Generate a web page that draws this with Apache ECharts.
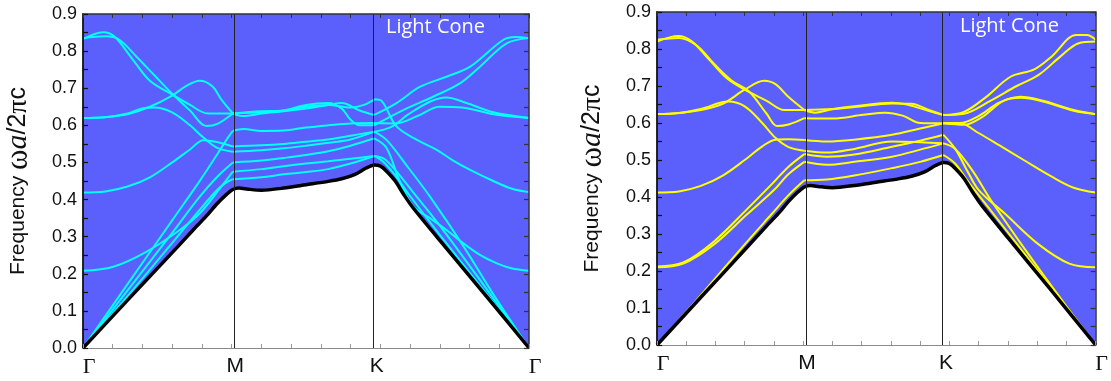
<!DOCTYPE html>
<html>
<head>
<meta charset="utf-8">
<script src="https://cdn.jsdelivr.net/npm/echarts@6/dist/echarts.min.js"></script>
<style>
  html, body { margin: 0; padding: 0; background: #fff; }
  #chart { width: 1111px; height: 381px; }
</style>
</head>
<body>
<div id="chart"></div>
<script>
// Symmetry points along the path Γ → M → K → Γ (normalised path length)
const M_POS = 0.336;
const K_POS = 0.653;
const pathLabels = ['Γ', 'M', 'K', 'Γ'];
const pathPositions = [0, M_POS, K_POS, 1];
const yTickLabels = ['0.0', '0.1', '0.2', '0.3', '0.4', '0.5', '0.6', '0.7', '0.8', '0.9'];

// Light line (edge of the light cone), shared by both panels
const lightLine = [
  [0, 0], [0.10, 0.129], [0.20, 0.257], [0.25, 0.322],
  [0.28, 0.360], [0.30, 0.388], [0.32, 0.412], [0.336, 0.427], [0.35, 0.431],
  [0.37, 0.428], [0.40, 0.425], [0.45, 0.431], [0.50, 0.440],
  [0.55, 0.449], [0.58, 0.456], [0.61, 0.468], [0.635, 0.485], [0.653, 0.493],
  [0.667, 0.490], [0.68, 0.477], [0.70, 0.450], [0.72, 0.412], [0.74, 0.378],
  [0.80, 0.290], [0.90, 0.146], [1, 0]
];

// Left panel bands, Γ → M
const leftBandsGM = [
  [[0,0],[0.1,0.14],[0.2,0.283],[0.26,0.37],[0.3,0.425],[0.32,0.445],[0.336,0.455]],
  [[0,0],[0.1,0.155],[0.2,0.31],[0.26,0.405],[0.3,0.46],[0.336,0.5]],
  [[0,0.208],[0.068,0.219],[0.143,0.26],[0.217,0.318],[0.262,0.363],[0.307,0.43],[0.336,0.475]],
  [[0,0],[0.1,0.172],[0.2,0.344],[0.26,0.447],[0.3,0.52],[0.325,0.567],[0.336,0.585]],
  [[0,0.419],[0.05,0.422],[0.1,0.435],[0.15,0.46],[0.2,0.5],[0.24,0.535],[0.27,0.56],[0.3,0.555],[0.336,0.543]],
  [[0,0.62],[0.05,0.622],[0.1,0.632],[0.13,0.645],[0.16,0.648],[0.2,0.635],[0.24,0.6],[0.27,0.567],[0.3,0.54],[0.336,0.529]],
  [[0,0.62],[0.05,0.622],[0.1,0.63],[0.15,0.65],[0.2,0.68],[0.23,0.705],[0.262,0.72],[0.29,0.705],[0.31,0.67],[0.336,0.632]],
  [[0,0.832],[0.045,0.851],[0.07,0.84],[0.11,0.78],[0.15,0.72],[0.2,0.683],[0.24,0.655],[0.28,0.632],[0.336,0.632]],
  [[0,0.835],[0.05,0.84],[0.08,0.832],[0.12,0.785],[0.16,0.735],[0.2,0.685],[0.24,0.64],[0.277,0.598],[0.3,0.603],[0.336,0.632]]
];
// Left panel bands, M → K
const leftBandsMK = [
  [[0.336,0.455],[0.4,0.46],[0.45,0.468],[0.5,0.474],[0.55,0.482],[0.6,0.497],[0.653,0.5175]],
  [[0.336,0.475],[0.4,0.482],[0.45,0.49],[0.5,0.497],[0.55,0.503],[0.6,0.51],[0.653,0.5175]],
  [[0.336,0.5],[0.4,0.505],[0.45,0.512],[0.5,0.52],[0.55,0.53],[0.6,0.545],[0.653,0.565]],
  [[0.336,0.529],[0.4,0.533],[0.45,0.538],[0.5,0.545],[0.55,0.553],[0.6,0.562],[0.653,0.583]],
  [[0.336,0.543],[0.4,0.546],[0.45,0.55],[0.5,0.556],[0.55,0.562],[0.6,0.572],[0.653,0.583]],
  [[0.336,0.585],[0.36,0.59],[0.4,0.585],[0.45,0.586],[0.5,0.594],[0.55,0.6],[0.6,0.605],[0.653,0.606]],
  [[0.336,0.632],[0.36,0.625],[0.4,0.632],[0.45,0.638],[0.5,0.645],[0.55,0.655],[0.58,0.66],[0.62,0.64],[0.653,0.628]],
  [[0.336,0.632],[0.4,0.638],[0.45,0.64],[0.5,0.65],[0.55,0.655],[0.6,0.648],[0.63,0.655],[0.653,0.67]],
  [[0.336,0.632],[0.4,0.635],[0.45,0.64],[0.5,0.655],[0.55,0.66],[0.58,0.645],[0.6,0.615],[0.62,0.6],[0.653,0.6]]
];
// Left panel bands, K → Γ
const leftBandsKG = [
  [[0.653,0.5175],[0.675,0.5],[0.7,0.465],[0.73,0.415],[0.8,0.305],[0.9,0.153],[1,0]],
  [[0.653,0.5175],[0.675,0.51],[0.7,0.48],[0.74,0.42],[0.8,0.33],[0.9,0.167],[1,0]],
  [[0.653,0.565],[0.68,0.54],[0.71,0.45],[0.741,0.381],[0.778,0.35],[0.815,0.318],[0.853,0.282],[0.89,0.251],[0.928,0.228],[0.96,0.215],[1,0.208]],
  [[0.653,0.583],[0.681,0.56],[0.73,0.485],[0.778,0.408],[0.85,0.28],[0.92,0.145],[1,0]],
  [[0.653,0.67],[0.67,0.665],[0.703,0.597],[0.75,0.56],[0.793,0.534],[0.83,0.505],[0.868,0.48],[0.92,0.45],[0.96,0.43],[1,0.42]],
  [[0.653,0.583],[0.69,0.595],[0.73,0.63],[0.78,0.665],[0.815,0.675],[0.86,0.66],[0.92,0.635],[1,0.62]],
  [[0.653,0.606],[0.7,0.605],[0.75,0.625],[0.8,0.65],[0.85,0.648],[0.92,0.63],[1,0.62]],
  [[0.653,0.628],[0.703,0.66],[0.756,0.704],[0.815,0.731],[0.868,0.758],[0.942,0.83],[0.97,0.838],[1,0.835]],
  [[0.653,0.6],[0.718,0.641],[0.785,0.677],[0.845,0.713],[0.89,0.758],[0.95,0.821],[1,0.835]]
];

// Right panel bands, Γ → M
const rightBandsGM = [
  [[0,0],[0.1,0.135],[0.2,0.272],[0.26,0.352],[0.3,0.405],[0.336,0.445]],
  [[0,0.21],[0.06,0.22],[0.13,0.272],[0.206,0.354],[0.266,0.418],[0.3,0.462],[0.336,0.495]],
  [[0,0.212],[0.06,0.223],[0.13,0.28],[0.206,0.368],[0.266,0.44],[0.3,0.482],[0.336,0.516]],
  [[0,0.412],[0.05,0.415],[0.1,0.43],[0.15,0.458],[0.2,0.5],[0.24,0.537],[0.27,0.555],[0.3,0.556],[0.336,0.554]],
  [[0,0.624],[0.05,0.627],[0.1,0.638],[0.162,0.658],[0.2,0.645],[0.24,0.6],[0.27,0.56],[0.3,0.535],[0.336,0.525]],
  [[0,0.624],[0.05,0.627],[0.1,0.635],[0.15,0.652],[0.2,0.69],[0.244,0.714],[0.27,0.705],[0.3,0.67],[0.336,0.635]],
  [[0,0.82],[0.049,0.835],[0.08,0.82],[0.12,0.77],[0.16,0.72],[0.2,0.69],[0.25,0.66],[0.29,0.635],[0.336,0.635]],
  [[0,0.825],[0.05,0.83],[0.09,0.81],[0.13,0.76],[0.17,0.715],[0.21,0.685],[0.25,0.625],[0.274,0.592],[0.3,0.596],[0.336,0.613]]
];
// Right panel bands, M → K
const rightBandsMK = [
  [[0.336,0.445],[0.387,0.447],[0.45,0.458],[0.536,0.478],[0.6,0.495],[0.653,0.5135]],
  [[0.336,0.495],[0.387,0.487],[0.45,0.495],[0.536,0.509],[0.6,0.528],[0.653,0.545]],
  [[0.336,0.516],[0.387,0.509],[0.45,0.515],[0.536,0.536],[0.6,0.552],[0.653,0.568]],
  [[0.336,0.525],[0.387,0.52],[0.45,0.53],[0.536,0.55],[0.6,0.548],[0.653,0.545]],
  [[0.336,0.554],[0.387,0.55],[0.45,0.555],[0.536,0.568],[0.6,0.585],[0.653,0.599]],
  [[0.336,0.613],[0.4,0.612],[0.47,0.622],[0.52,0.628],[0.56,0.62],[0.6,0.6],[0.653,0.599]],
  [[0.336,0.635],[0.4,0.638],[0.45,0.643],[0.536,0.653],[0.58,0.652],[0.62,0.635],[0.653,0.6216]],
  [[0.336,0.635],[0.36,0.628],[0.4,0.637],[0.45,0.645],[0.536,0.655],[0.57,0.65],[0.62,0.632],[0.653,0.6216]]
];
// Right panel bands, K → Γ
const rightBandsKG = [
  [[0.653,0.5135],[0.68,0.49],[0.71,0.44],[0.75,0.38],[0.85,0.228],[0.95,0.076],[1,0]],
  [[0.653,0.545],[0.68,0.53],[0.72,0.47],[0.761,0.392],[0.85,0.24],[0.93,0.11],[1,0]],
  [[0.653,0.568],[0.68,0.53],[0.71,0.465],[0.734,0.418],[0.794,0.354],[0.87,0.272],[0.94,0.22],[1,0.21]],
  [[0.653,0.599],[0.69,0.6],[0.73,0.575],[0.78,0.54],[0.836,0.5],[0.9,0.455],[0.95,0.425],[1,0.412]],
  [[0.653,0.6],[0.69,0.6],[0.735,0.62],[0.78,0.655],[0.828,0.671],[0.88,0.66],[0.95,0.635],[1,0.624]],
  [[0.653,0.599],[0.7,0.595],[0.74,0.615],[0.79,0.66],[0.83,0.668],[0.88,0.658],[0.95,0.633],[1,0.624]],
  [[0.653,0.6216],[0.7,0.63],[0.75,0.67],[0.806,0.725],[0.86,0.745],[0.9,0.78],[0.956,0.838],[0.98,0.838],[1,0.825]],
  [[0.653,0.6216],[0.7,0.625],[0.76,0.66],[0.82,0.7],[0.87,0.73],[0.92,0.78],[0.96,0.815],[1,0.82]]
];

const CONE_BLUE = '#5b5ffb';
const xTickValues = [];
for (let i = 0; i <= 15; i++) xTickValues.push(i / 15);

const chart = echarts.init(document.getElementById('chart'), null, { renderer: 'canvas' });

const grids = [
  { left: 83, right: 582, top: 14, bottom: 33 },
  { left: 657, right: 8, top: 12, bottom: 36 }
];

function pathLabel(v) {
  let best = 0;
  pathPositions.forEach((p, i) => { if (Math.abs(p - v) < Math.abs(pathPositions[best] - v)) best = i; });
  const t = pathLabels[best];
  return t === 'Γ' ? '{g|Γ}' : '{s|' + t + '}';
}

const xAxes = [];
const yAxes = [];
const series = [];
const bandColors = ['#00ffff', '#ffff00'];
const bandSets = [
  [leftBandsGM, leftBandsMK, leftBandsKG],
  [rightBandsGM, rightBandsMK, rightBandsKG]
];

grids.forEach((g, gi) => {
  g.show = true;
  g.backgroundColor = CONE_BLUE;
  g.borderWidth = 0;
  g.containLabel = false;

  // bottom axis: symmetry point labels
  xAxes.push({
    type: 'value', gridIndex: gi, min: 0, max: 1, position: 'bottom', z: 6,
    axisLine: { show: true, onZero: false, lineStyle: { color: '#8a8a8a', width: 1.2 } },
    axisTick: { show: true, inside: true, length: 4, customValues: xTickValues, lineStyle: { color: '#9a9a9a', width: 1 } },
    axisLabel: {
      show: true, customValues: pathPositions, margin: 8, showMinLabel: true, showMaxLabel: true,
      formatter: pathLabel,
      rich: {
        g: { fontFamily: 'Liberation Serif', fontSize: 22, color: '#111', padding: [0, 0, 0, 12] },
        s: { fontFamily: 'Liberation Sans', fontSize: 21, color: '#111', padding: [0, 0, 0, 5] }
      }
    },
    splitLine: { show: false }
  });
  // top frame axis
  xAxes.push({
    type: 'value', gridIndex: gi, min: 0, max: 1, position: 'top', z: 6,
    axisLine: { show: true, onZero: false, lineStyle: { color: '#333', width: 1.5 } },
    axisTick: { show: true, inside: true, length: 4, customValues: xTickValues, lineStyle: { color: '#333', width: 1 } },
    axisLabel: { show: false },
    splitLine: { show: false }
  });
  // left axis: frequency
  yAxes.push({
    type: 'value', gridIndex: gi, min: 0, max: 0.9, interval: 0.1, position: 'left', z: 6,
    axisLine: { show: true, onZero: false, lineStyle: { color: '#111', width: 1.8 } },
    axisTick: { show: true, inside: true, length: 5, lineStyle: { color: '#111', width: 1.2 } },
    minorTick: { show: true, splitNumber: 2, length: 5, lineStyle: { color: '#111', width: 1.2 } },
    axisLabel: {
      margin: 6, fontFamily: 'Liberation Sans', fontSize: 18, color: '#111',
      formatter: (v) => yTickLabels[Math.round(v * 10)]
    },
    splitLine: { show: false },
    name: '{t|Frequency }{w|ω}{i|a}{t2|/2}{p|π}{t2|c}',
    nameLocation: 'middle', nameGap: 49, nameRotate: 90,
    nameTextStyle: {
      color: '#111',
      rich: {
        t: { fontFamily: 'Liberation Sans', fontSize: 21, color: '#111' },
        w: { fontFamily: 'Liberation Serif', fontSize: 31, color: '#111' },
        i: { fontFamily: 'Liberation Serif', fontStyle: 'italic', fontSize: 30, color: '#111' },
        t2: { fontFamily: 'Liberation Sans', fontSize: 25, color: '#111' },
        p: { fontFamily: 'Liberation Serif', fontSize: 28, color: '#111' }
      }
    }
  });
  // right frame axis
  yAxes.push({
    type: 'value', gridIndex: gi, min: 0, max: 0.9, interval: 0.1, position: 'right', z: 6,
    axisLine: { show: true, onZero: false, lineStyle: { color: '#333', width: 1.5 } },
    axisTick: { show: true, inside: true, length: 5, lineStyle: { color: '#333', width: 1.2 } },
    minorTick: { show: true, splitNumber: 2, length: 5, lineStyle: { color: '#333', width: 1.2 } },
    axisLabel: { show: false },
    splitLine: { show: false }
  });

  const xi = gi * 2;
  const yi = gi * 2;

  // region below the light line (outside the cone)
  series.push({
    type: 'line', xAxisIndex: xi, yAxisIndex: yi, data: lightLine, z: 1,
    showSymbol: false, silent: true, smooth: 0.25,
    lineStyle: { width: 0 },
    areaStyle: { color: '#ffffff', opacity: 1, origin: 'start' }
  });

  // photonic bands
  bandSets[gi].forEach((segment) => {
    segment.forEach((band) => {
      series.push({
        type: 'line', xAxisIndex: xi, yAxisIndex: yi, data: band, z: 2,
        showSymbol: false, silent: true, smooth: 0.35,
        lineStyle: { color: bandColors[gi], width: 2 }
      });
    });
  });

  // light line with symmetry-point markers
  series.push({
    type: 'line', xAxisIndex: xi, yAxisIndex: yi, data: lightLine, z: 3,
    showSymbol: false, silent: true, smooth: 0.25,
    lineStyle: { color: '#000', width: 3.5 },
    markLine: {
      silent: true, symbol: ['none', 'none'], label: { show: false },
      lineStyle: { color: '#222', width: 1, type: 'solid' },
      data: [{ xAxis: M_POS }, { xAxis: K_POS }]
    }
  });
});

const coneLabel = {
  fontFamily: 'Open Sans', fontSize: 20, fontWeight: 'normal', color: '#ffffff'
};

chart.setOption({
  animation: false,
  backgroundColor: '#ffffff',
  title: [
    { text: 'Light Cone', left: 386, top: 17, textStyle: coneLabel, padding: 0 },
    { text: 'Light Cone', left: 960, top: 16, textStyle: coneLabel, padding: 0 }
  ],
  grid: grids,
  xAxis: xAxes,
  yAxis: yAxes,
  series: series
});
</script>
</body>
</html>
